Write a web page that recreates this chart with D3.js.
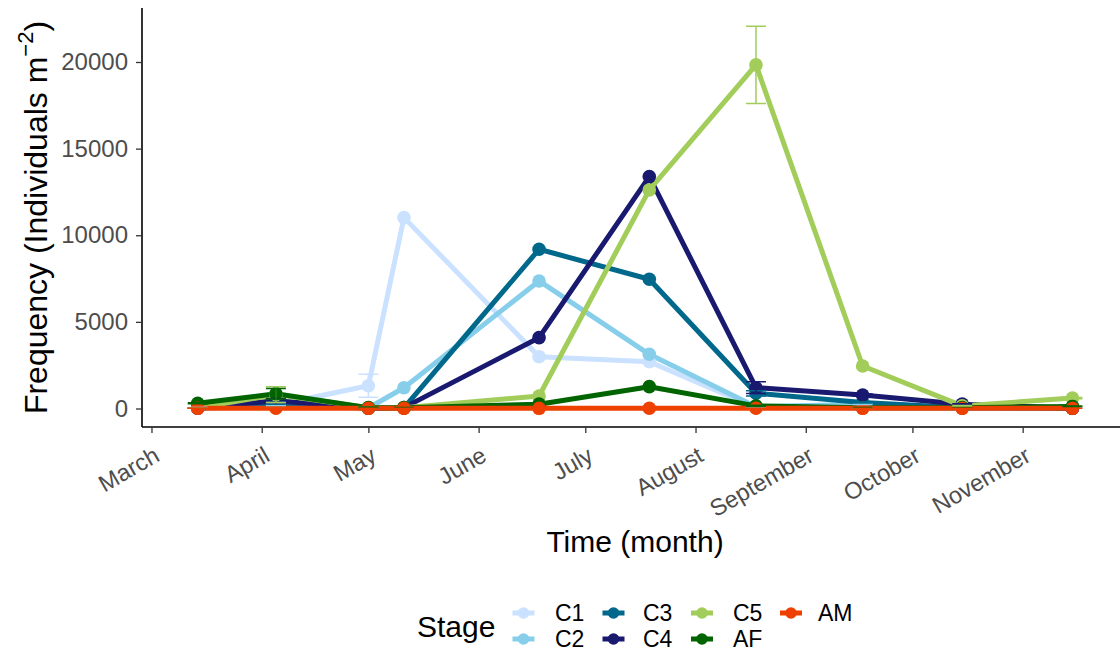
<!DOCTYPE html>
<html>
<head>
<meta charset="utf-8">
<script src="https://cdn.jsdelivr.net/npm/d3@7"></script>
<style>
  html, body { margin: 0; padding: 0; background: #ffffff; }
  svg { display: block; font-family: "Liberation Sans", Arial, sans-serif; }
</style>
</head>
<body>
<svg id="chart" width="1120" height="651"></svg>
<script>
// Sampling dates (one per survey)
const sampleDates = ["2019-03-14", "2019-04-05", "2019-05-01", "2019-05-11", "2019-06-18",
                     "2019-07-19", "2019-08-18", "2019-09-17", "2019-10-15", "2019-11-15"];

// Copepodite / adult stages, in drawing order
const stages = ["C1", "C2", "C3", "C4", "C5", "AF", "AM"];
const stageColors = ["#CAE1FF", "#87CEEB", "#00688B", "#191970", "#A2CD5A", "#006400", "#EE4000"];

// Mean abundance (individuals m^-2) per stage and date
const c1Mean = [50, 200, 1316, 11017, 2991, 2702, 50, 30, 10, 5];
const c2Mean = [20, 150, 30, 1200, 7362, 3128, 100, 250, 30, 5];
const c3Mean = [30, 300, 20, 30, 9192, 7460, 877, 350, 40, 10];
const c4Mean = [20, 450, 20, 50, 4088, 13384, 1200, 780, 250, 20];
const c5Mean = [30, 800, 50, 50, 722, 12616, 19834, 2454, 150, 600];
const afMean = [300, 850, 50, 50, 250, 1260, 150, 50, 50, 120];
const amMean = [10, 20, 10, 10, 10, 15, 15, 10, 10, 10];

// Standard errors per stage and date
const c1Err = [10, 60, 660, 0, 0, 0, 20, 10, 0, 0];
const c2Err = [5, 40, 10, 0, 0, 0, 30, 20, 0, 0];
const c3Err = [5, 60, 10, 0, 0, 0, 150, 30, 0, 0];
const c4Err = [5, 120, 10, 0, 0, 0, 340, 60, 30, 0];
const c5Err = [5, 450, 20, 0, 0, 0, 2230, 0, 20, 40];
const afErr = [30, 300, 40, 10, 0, 0, 40, 10, 10, 20];
const amErr = [2, 60, 5, 2, 2, 2, 2, 2, 2, 2];

const yTicks = [0, 5000, 10000, 15000, 20000];
const monthLabels = ["January", "February", "March", "April", "May", "June", "July",
                     "August", "September", "October", "November", "December"];

const means = [c1Mean, c2Mean, c3Mean, c4Mean, c5Mean, afMean, amMean];
const errs = [c1Err, c2Err, c3Err, c4Err, c5Err, afErr, amErr];

const parseDate = d3.timeParse("%Y-%m-%d");
const dates = sampleDates.map(parseDate);

const series = stages.map((s, i) => ({
  stage: s,
  color: stageColors[i],
  values: dates.map((d, j) => ({ date: d, mean: means[i][j], err: errs[i][j] }))
}));

// Layout
const panel = { left: 142, right: 1120, top: 8, bottom: 427 };

const svg = d3.select("#chart");

const x = d3.scaleTime()
  .domain([new Date(2019, 1, 26, 8), new Date(2019, 10, 28, 9)])
  .range([panel.left, panel.right]);

const y = d3.scaleLinear()
  .domain([-1068, 23117])
  .range([panel.bottom, panel.top]);

const color = d3.scaleOrdinal().domain(stages).range(stageColors);

// Axes
const xAxis = d3.axisBottom(x)
  .ticks(d3.timeMonth.every(1))
  .tickFormat(d => monthLabels[d.getMonth()])
  .tickSizeOuter(0)
  .tickSizeInner(6);

const gx = svg.append("g")
  .attr("transform", `translate(0,${panel.bottom})`)
  .call(xAxis);
gx.select(".domain").attr("stroke", "#000").attr("stroke-width", 1.6)
  .attr("d", `M${panel.left},0H${panel.right}`);
gx.selectAll(".tick line").attr("stroke", "#333").attr("stroke-width", 1.3);
gx.selectAll(".tick text")
  .attr("fill", "#4D4D4D")
  .attr("font-size", 23.5)
  .attr("font-family", "Liberation Sans, Arial, sans-serif")
  .attr("text-anchor", "end")
  .attr("y", 0).attr("dy", 0)
  .attr("transform", "translate(9,33) rotate(-30)");

const yAxis = d3.axisLeft(y)
  .tickValues(yTicks)
  .tickFormat(d3.format("d"))
  .tickSizeOuter(0)
  .tickSizeInner(6);

const gy = svg.append("g")
  .attr("transform", `translate(${panel.left},0)`)
  .call(yAxis);
gy.select(".domain").attr("stroke", "#000").attr("stroke-width", 1.6)
  .attr("d", `M0,${panel.bottom}V${panel.top}`);
gy.selectAll(".tick line").attr("stroke", "#333").attr("stroke-width", 1.3);
gy.selectAll(".tick text")
  .attr("fill", "#4D4D4D")
  .attr("font-size", 24)
  .attr("font-family", "Liberation Sans, Arial, sans-serif")
  .attr("x", -14);

// Lines
const line = d3.line()
  .x(d => x(d.date))
  .y(d => y(d.mean));

const plot = svg.append("g");

plot.selectAll("path.series")
  .data(series)
  .join("path")
  .attr("class", "series")
  .attr("fill", "none")
  .attr("stroke", d => d.color)
  .attr("stroke-width", 5)
  .attr("stroke-linejoin", "round")
  .attr("d", d => line(d.values));

// Points
plot.selectAll("g.pts")
  .data(series)
  .join("g")
  .attr("class", "pts")
  .attr("fill", d => d.color)
  .selectAll("circle")
  .data(d => d.values)
  .join("circle")
  .attr("cx", d => x(d.date))
  .attr("cy", d => y(d.mean))
  .attr("r", 6.8);

// Error bars
const capHalf = 10;
plot.selectAll("g.err")
  .data(series)
  .join("g")
  .attr("class", "err")
  .attr("stroke", d => d.color)
  .attr("stroke-width", 1.5)
  .attr("fill", "none")
  .selectAll("path")
  .data(d => d.values.filter(v => v.err > 0))
  .join("path")
  .attr("d", d => {
    const cx = x(d.date), y1 = y(d.mean + d.err), y0 = y(d.mean - d.err);
    return `M${cx - capHalf},${y1}H${cx + capHalf}M${cx},${y1}V${y0}M${cx - capHalf},${y0}H${cx + capHalf}`;
  });

// Axis titles
svg.append("text")
  .attr("x", 635).attr("y", 552)
  .attr("text-anchor", "middle")
  .attr("font-size", 30)
  .attr("fill", "#000")
  .text("Time (month)");

const yTitle = svg.append("text")
  .attr("transform", `translate(47,${(panel.top + panel.bottom) / 2}) rotate(-90)`)
  .attr("text-anchor", "middle")
  .attr("font-size", 32)
  .attr("fill", "#000");
yTitle.append("tspan").text("Frequency (Individuals m");
yTitle.append("tspan").attr("font-size", 22).attr("dy", -14).text("\u22122");
yTitle.append("tspan").attr("dy", 14).text(")");

// Legend
const legend = svg.append("g");
legend.append("text")
  .attr("x", 417).attr("y", 637)
  .attr("font-size", 30)
  .attr("fill", "#000")
  .text("Stage");

const colX = [523.5, 613.5, 702, 791];
const labelX = [555, 643, 733, 818];
const rowY = [613, 639];
stages.forEach((s, i) => {
  const col = Math.floor(i / 2);
  const cy = rowY[i % 2];
  const g = legend.append("g").attr("transform", `translate(${colX[col]},${cy})`);
  g.append("line").attr("x1", -11).attr("x2", 11)
    .attr("stroke", color(s)).attr("stroke-width", 5);
  g.append("circle").attr("r", 5.8).attr("fill", color(s));
  legend.append("text")
    .attr("x", labelX[col]).attr("y", cy).attr("dy", "0.36em")
    .attr("font-size", 23)
    .attr("fill", "#000")
    .text(s);
});
</script>
</body>
</html>
